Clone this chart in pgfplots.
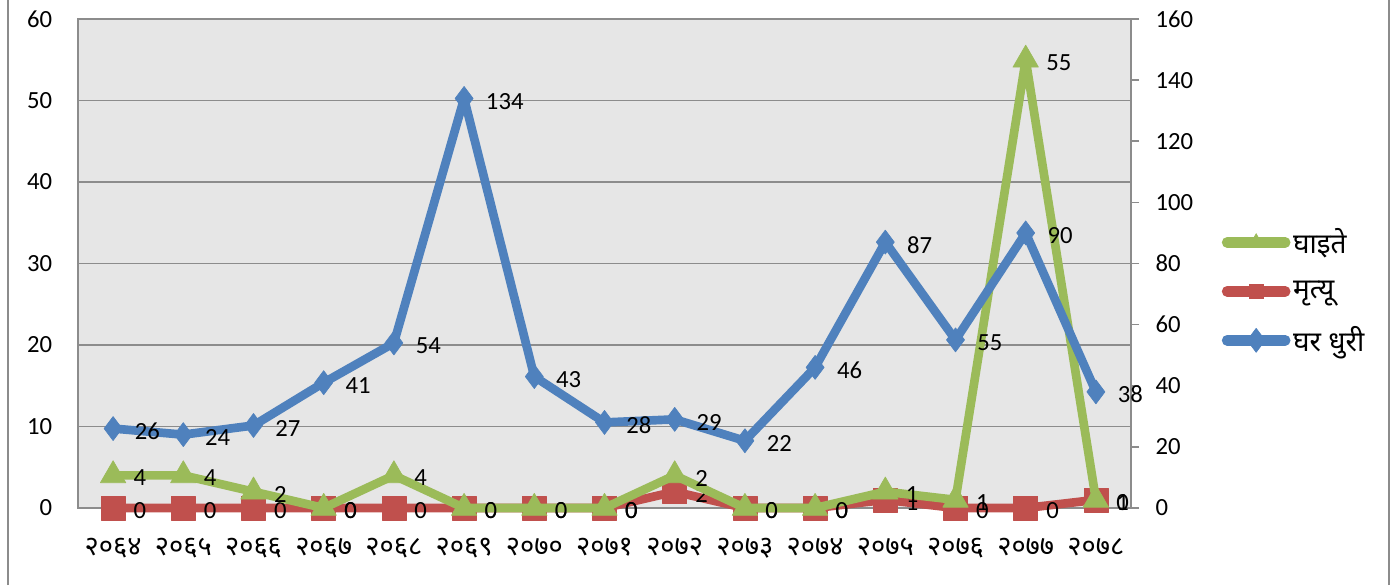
\documentclass[border=0pt]{standalone}
\usepackage{fontspec}
\usepackage{pgfplots}
\pgfplotsset{compat=1.18}
\setmainfont{Carlito}
\newfontfamily\deva[Script=Devanagari]{Noto Sans}
\definecolor{cgreen}{HTML}{9BBB59}
\definecolor{cred}{HTML}{C0504D}
\definecolor{cblue}{HTML}{4F81BD}
\definecolor{cbg}{HTML}{E6E6E6}
\definecolor{cgrid}{HTML}{8C8C8C}
\pgfplotsset{/pgf/number format/assume math mode=true,
  common/.style={at={(0,0)}, anchor=south west,
    scale only axis, width=789.75pt, height=366.75pt,
    xmin=-0.5, xmax=14.5, clip=false},
  lbl/.style={nodes near coords style={anchor=west, xshift=#1, yshift=-2pt, font=\fontsize{18.5}{22}\selectfont, text=black}},
}
\pgfplotstableread{
x red green
0 0 4
1 0 4
2 0 2
3 0 0
4 0 4
5 0 0
6 0 0
7 0 0
8 2 2
9 0 0
10 0 0
11 1 1
12 0 1
13 0 55
14 1 0
}\lefttab
\begin{document}
\fontsize{18.5}{22}\selectfont
\begin{tikzpicture}
\useasboundingbox (-58.5pt,-57.75pt) rectangle (984.75pt,381pt);
\draw[cgrid,line width=1.2pt] (-52.5pt,-57.75pt) -- (-52.5pt,381pt);
\draw[cgrid,line width=1.2pt] (983.25pt,-57.75pt) -- (983.25pt,381pt);
% base axis with red series
\begin{axis}[common,
  ymin=0, ymax=60,
  xtick={0,...,14},
  xticklabels={२०६४,२०६५,२०६६,२०६७,२०६८,२०६९,२०७०,२०७१,२०७२,२०७३,२०७४,२०७५,२०७६,२०७७,२०७८},
  xticklabel style={font=\deva\fontsize{20.5}{24}\selectfont, yshift=-16pt},
  ytick={0,10,...,60},
  yticklabel style={xshift=-13pt},
  major tick length=0pt,
  axis background/.style={fill=cbg},
  axis line style={cgrid,line width=1.5pt},
  ymajorgrids, grid style={cgrid,line width=1.2pt},
]
\addplot[cred, line width=6.5pt, line join=round, line cap=round, mark=square*, mark size=9pt, mark options={line width=0.5pt}, nodes near coords, point meta=explicit, lbl=9pt]
  table[x=x, y=red, meta=red] {\lefttab};
\end{axis}
% green series stacked on red
\begin{axis}[common,
  ymin=0, ymax=60, axis lines=none,
  stack plots=y,
]
\addplot[draw=none, mark=none] table[x=x, y=red] {\lefttab};
\addplot[cgreen, line width=6.5pt, line join=round, line cap=round, mark=triangle*, mark size=11pt, mark options={line width=0.5pt}, nodes near coords, point meta=explicit, lbl=9pt]
  table[x=x, y=green, meta=green] {\lefttab};
\end{axis}
% secondary axis
\begin{axis}[common,
  ymin=0, ymax=160,
  axis x line=none,
  axis y line*=right,
  ytick={0,20,...,160},
  tick align=outside,
  major tick length=6pt,
  yticklabel style={xshift=6pt},
  axis line style={cgrid,line width=1.5pt},
  tick style={cgrid,line width=1.2pt},
  legend style={draw=none, fill=none, at={(1.086,0.443)}, anchor=west, font=\deva\fontsize{21}{25}\selectfont, row sep=14pt, inner sep=0pt, cells={anchor=west}},
  legend image code/.code={\draw[mark repeat=2,mark phase=2,#1,line width=8pt,line cap=round] plot coordinates {(0pt,0pt) (21.75pt,0pt) (43.5pt,0pt)};},
]
\addlegendimage{cgreen, mark=triangle*, mark options={line width=0.5pt}, mark size=6.5pt}
\addlegendentry{घाइते}
\addlegendimage{cred, mark=square*, mark options={line width=0.5pt}, mark size=5.5pt}
\addlegendentry{मृत्यू}
\addplot[cblue, line width=6.5pt, line join=round, line cap=round, mark=diamond*, mark size=9pt, mark options={line width=0.5pt}, nodes near coords, point meta=y, lbl=10pt]
coordinates {(0,26) (1,24) (2,27) (3,41) (4,54) (5,134) (6,43) (7,28) (8,29) (9,22) (10,46) (11,87) (12,55) (13,90) (14,38)};
\addlegendentry{घर धुरी}
\end{axis}
\end{tikzpicture}
\end{document}
